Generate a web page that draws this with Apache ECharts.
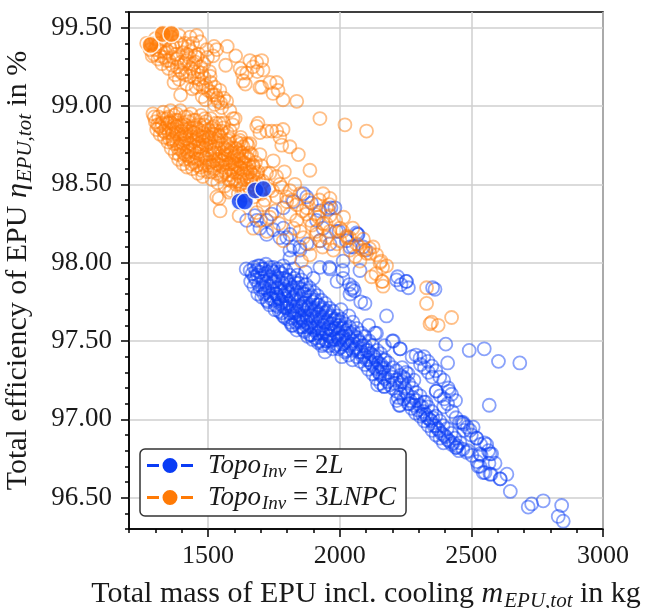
<!DOCTYPE html>
<html><head><meta charset="utf-8">
<script src="https://cdn.jsdelivr.net/npm/echarts@6/dist/echarts.min.js"></script>
<style>html,body{margin:0;padding:0;background:#fff}#c{width:646px;height:608px}</style>
</head><body><div id="c"></div>
<script>
// ---- data ----
const xTicks = [1500, 2000, 2500, 3000];
const yTicks = [96.5, 97.0, 97.5, 98.0, 98.5, 99.0, 99.5];
const legendNames = ['2L', '3LNPC'];

// Topo_Inv = 3LNPC, open markers
const orangeUpper = [[1267,99.40],[1280,99.36],[1288,99.32],[1295,99.33],[1300,99.43],[1305,99.38],[1310,99.30],[1320,99.35],[1325,99.27],[1335,99.31],[1339,99.34],[1340,99.42],[1343,99.29],[1350,99.24],[1356,99.37],[1360,99.44],[1364,99.26],[1368,99.31],[1371,99.15],[1375,99.20],[1380,99.41],[1385,99.30],[1390,99.17],[1390,99.45],[1394,99.23],[1396,99.07],[1400,99.39],[1405,99.34],[1410,99.27],[1415,99.20],[1419,99.14],[1420,99.33],[1425,99.38],[1432,99.44],[1434,99.35],[1435,99.24],[1440,99.11],[1444,99.27],[1448,99.18],[1450,99.32],[1455,99.12],[1457,99.45],[1459,99.31],[1462,99.22],[1466,99.17],[1470,99.41],[1472,99.25],[1478,99.06],[1481,99.12],[1485,99.18],[1490,99.04],[1495,99.36],[1500,99.10],[1505,99.22],[1510,99.15],[1519,99.07],[1519,99.32],[1523,99.38],[1525,99.01],[1529,99.07],[1533,99.36],[1538,99.03],[1545,99.10],[1552,98.99],[1560,99.05],[1567,99.26],[1571,99.03],[1573,99.38],[1583,98.97],[1595,98.92],[1605,99.32],[1622,99.24],[1630,99.21],[1634,99.16],[1642,99.14],[1647,99.21],[1659,99.29],[1671,99.25],[1685,99.28],[1687,99.22],[1697,99.12],[1704,99.29],[1709,99.23],[1704,99.12],[1735,99.15],[1747,99.08],[1761,99.15],[1766,99.10],[1785,99.04],[1837,99.03],[1925,98.92],[2020,98.88],[2102,98.84],[1685,98.87],[1697,98.83],[1723,98.84],[1742,98.84],[1761,98.84],[1785,98.85],[1773,98.80],[1780,98.75],[1811,98.74],[1843,98.69],[1887,98.59],[1690,98.89],
  [1285,99.40],[1298,99.36],[1315,99.40],[1318,99.32],[1330,99.37],[1345,99.35],[1352,99.29],[1366,99.38],[1378,99.33],[1383,99.25],[1398,99.28],[1402,99.21],[1412,99.40],[1418,99.29],[1428,99.31],[1430,99.19],[1442,99.40],[1446,99.22],[1452,99.28],[1464,99.33],[1468,99.14],[1476,99.21],[1484,99.27],[1492,99.13],[1498,99.31],[1508,99.19],[1512,99.09],[1526,99.12],[1535,99.05],[1548,99.02]];
const orangeMain = [[1291,98.95],[1300,98.90],[1305,98.85],[1312,98.93],[1318,98.82],[1325,98.89],[1330,98.96],[1334,98.80],[1340,98.86],[1344,98.92],[1348,98.77],[1352,98.83],[1358,98.97],[1360,98.73],[1362,98.89],[1368,98.79],[1371,98.94],[1375,98.70],[1378,98.85],[1382,98.76],[1385,98.91],[1388,98.66],[1392,98.82],[1395,98.97],[1398,98.72],[1402,98.87],[1405,98.63],[1408,98.78],[1411,98.93],[1414,98.69],[1417,98.84],[1420,98.61],[1423,98.75],[1426,98.90],[1429,98.66],[1432,98.81],[1435,98.95],[1438,98.72],[1441,98.60],[1444,98.86],[1447,98.77],[1450,98.64],[1453,98.91],[1456,98.70],[1459,98.82],[1462,98.57],[1465,98.76],[1468,98.88],[1471,98.66],[1474,98.94],[1477,98.73],[1480,98.55],[1483,98.83],[1486,98.62],[1489,98.78],[1492,98.90],[1495,98.69],[1498,98.58],[1501,98.85],[1504,98.74],[1507,98.64],[1510,98.92],[1513,98.80],[1516,98.53],[1519,98.70],[1522,98.87],[1525,98.60],[1528,98.77],[1531,98.66],[1534,98.84],[1537,98.51],[1540,98.73],[1543,98.89],[1546,98.62],[1549,98.80],[1552,98.56],[1555,98.70],[1558,98.86],[1561,98.66],[1564,98.49],[1567,98.76],[1570,98.59],[1573,98.83],[1576,98.69],[1579,98.53],[1582,98.79],[1585,98.63],[1588,98.46],[1591,98.73],[1594,98.88],[1597,98.58],[1600,98.68],[1603,98.92],[1606,98.50],[1609,98.77],[1612,98.62],[1615,98.44],[1618,98.71],[1621,98.55],[1624,98.80],[1627,98.65],[1630,98.48],[1633,98.74],[1636,98.59],[1640,98.43],[1644,98.68],[1648,98.53],[1652,98.75],[1656,98.62],[1660,98.47],[1665,98.69],[1670,98.56],[1675,98.42],[1680,98.64],[1685,98.51],[1690,98.58],[1696,98.45],[1702,98.62],[1708,98.52],[1715,98.40],[1722,98.57],[1730,98.47],[1355,98.90],[1365,98.82],[1373,98.88],[1380,98.95],[1386,98.73],[1393,98.79],[1400,98.84],[1407,98.70],[1413,98.88],[1419,98.79],[1425,98.68],[1431,98.86],[1437,98.63],[1443,98.80],[1449,98.71],[1455,98.86],[1461,98.66],[1467,98.81],[1473,98.61],[1479,98.77],[1485,98.88],[1491,98.67],[1497,98.81],[1503,98.62],[1509,98.76],[1515,98.86],[1521,98.65],[1527,98.82],[1533,98.57],[1539,98.78],[1545,98.68],[1551,98.84],[1557,98.61],[1563,98.73],[1569,98.64],[1575,98.78],[1581,98.56],[1587,98.70],[1593,98.64],[1599,98.53],[1605,98.73],[1611,98.57],[1617,98.66],[1623,98.50],[1629,98.70],[1635,98.53],[1642,98.63],[1650,98.57],[1658,98.70],[1667,98.50],[1533,98.42],[1546,98.33],[1542,98.41],[1618,98.30],[1580,98.45],
  [1296,98.93],[1308,98.88],[1322,98.86],[1328,98.92],[1338,98.83],[1346,98.89],[1354,98.79],[1363,98.85],[1370,98.76],[1376,98.91],[1383,98.82],[1390,98.69],[1397,98.88],[1404,98.76],[1410,98.66],[1416,98.81],[1422,98.93],[1428,98.72],[1434,98.84],[1440,98.67],[1446,98.91],[1452,98.74],[1458,98.62],[1464,98.85],[1470,98.71],[1476,98.59],[1482,98.80],[1488,98.92],[1494,98.64],[1500,98.79],[1506,98.69],[1512,98.58],[1518,98.82],[1524,98.72],[1530,98.89],[1536,98.63],[1542,98.81],[1548,98.55],[1554,98.75],[1560,98.89],[1566,98.58],[1572,98.72],[1578,98.63],[1584,98.84],[1590,98.52],[1596,98.67],[1602,98.61],[1608,98.70],[1614,98.52],[1620,98.61],[1626,98.76],[1632,98.57],[1638,98.68],[1646,98.47],[1654,98.66],[1662,98.53],[1672,98.62],[1682,98.47],[1692,98.53],[1700,98.44],
  [1315,98.87],[1332,98.84],[1350,98.93],[1366,98.78],[1381,98.87],[1396,98.75],[1409,98.82],[1421,98.71],[1433,98.76],[1445,98.83],[1457,98.79],[1469,98.74],[1481,98.68],[1493,98.75],[1505,98.80],[1517,98.62],[1529,98.70],[1541,98.66],[1553,98.65],[1565,98.69],[1577,98.74],[1589,98.59],[1601,98.63],[1613,98.68],[1625,98.60],[1637,98.64],[1649,98.60],[1661,98.58],[1673,98.52],[1685,98.57]];
const orangeLower = [[1621,98.78],[1647,98.76],[1659,98.76],[1697,98.69],[1748,98.65],[1735,98.57],[1672,98.61],[1773,98.50],[1811,98.46],[1761,98.42],[1799,98.39],[1837,98.37],[1875,98.35],[1906,98.31],[1950,98.35],[1963,98.30],[1887,98.27],[1837,98.27],[1811,98.31],[1735,98.29],[1685,98.32],[1710,98.37],[1672,98.22],[1723,98.20],[1786,98.14],[1862,98.16],[1912,98.18],[1950,98.16],[2001,98.22],[2027,98.17],[2001,98.14],[1976,98.08],[2039,98.08],[2064,98.12],[2102,98.06],[2127,98.10],[2077,98.01],[1887,98.12],[1849,98.20],[1937,98.25],[1912,98.37],[1963,98.41],[1937,98.44],[1798,98.42],[1874,98.31],[1912,98.20],[1963,98.20],[1925,98.14],[1887,98.05],[1855,98.01],[1923,98.40],[1961,98.37],[1948,98.25],[2011,98.20],[2037,98.16],[2075,98.10],[2113,98.09],[2157,98.01],[2163,97.97],[2138,97.93],[2163,97.88],[2027,98.16],[2089,98.08],[2115,98.06],[2153,98.00],[2178,97.98],[2121,97.91],[2160,97.88],[2165,97.85],[2330,97.84],[2330,97.74],[2349,97.62],[2374,97.60],[2425,97.65],[2343,97.61],[1935,98.10],[1760,98.55],[1780,98.48],[1790,98.58],[1820,98.40],[1830,98.50],[1850,98.44],[1860,98.33],[1880,98.40],[1895,98.24],[1920,98.29],[1985,98.27],[2015,98.29],[2050,98.22],[2090,98.15],[1755,98.33],[1770,98.25],[1745,98.46],[1700,98.27],[1825,98.22],[1990,98.12],[2060,98.04],[2140,98.05]];

// Topo_Inv = 2L, open markers
const blueUpper = [[1678,98.30],[1723,98.27],[1748,98.21],[1799,98.16],[1824,98.10],[1849,98.08],[1811,98.08],[1862,98.44],[1875,98.42],[1925,98.33],[1957,98.34],[1982,98.35],[1937,98.22],[1988,98.20],[2026,98.14],[2064,98.19],[2039,98.10],[2089,98.10],[1773,98.16],[1697,98.22],[1647,98.27],[1742,98.31],[1786,98.35],[1824,98.39],[1893,98.38],[1912,98.27],[1786,98.22],[1875,98.12],[1925,98.14],[1963,98.12],[1811,98.03],[1685,98.27],[1723,98.18],[1811,98.18],[1849,98.10],[1967,98.35],[2068,98.18],[2100,98.08],[1997,98.20],[2070,98.18],[2051,98.10],[2013,98.01],[2077,97.95],[1961,97.97],[2011,97.95],[1925,97.97],[1963,97.96],[1748,97.97],[1786,97.98],[1697,97.98],[2220,97.91],[2252,97.88],[2233,97.86],[2353,97.84],[2216,97.89],[2254,97.88],[2261,97.84],[2362,97.83],[2037,97.86],[2056,97.82],[2051,97.84],[2039,97.80],[2096,97.74],[2178,97.66],[1997,97.63],[2013,97.90],[2045,97.83]];
const blueMain = [[1645,97.96],[1660,97.95],[1662,97.88],[1675,97.97],[1676,97.91],[1674,97.85],[1690,97.98],[1688,97.92],[1692,97.86],[1689,97.80],[1705,97.96],[1703,97.90],[1707,97.84],[1704,97.78],[1720,97.99],[1718,97.93],[1722,97.87],[1719,97.81],[1723,97.76],[1735,97.97],[1737,97.91],[1733,97.85],[1736,97.79],[1734,97.73],[1750,97.94],[1752,97.88],[1748,97.82],[1751,97.76],[1754,97.70],[1765,97.96],[1767,97.90],[1763,97.84],[1766,97.78],[1764,97.72],[1780,97.93],[1782,97.87],[1778,97.81],[1781,97.75],[1779,97.68],[1795,97.95],[1797,97.89],[1793,97.83],[1796,97.77],[1794,97.71],[1792,97.65],[1810,97.92],[1812,97.86],[1808,97.80],[1811,97.74],[1809,97.68],[1813,97.62],[1825,97.96],[1827,97.90],[1823,97.84],[1826,97.78],[1824,97.72],[1828,97.66],[1822,97.60],[1840,97.92],[1842,97.87],[1838,97.81],[1841,97.75],[1839,97.69],[1843,97.63],[1837,97.57],[1855,97.89],[1857,97.83],[1853,97.77],[1856,97.71],[1854,97.65],[1858,97.59],[1870,97.94],[1872,97.86],[1868,97.80],[1871,97.74],[1869,97.68],[1873,97.62],[1867,97.56],[1885,97.84],[1887,97.78],[1883,97.72],[1886,97.66],[1884,97.60],[1888,97.54],[1900,97.90],[1902,97.81],[1898,97.75],[1901,97.69],[1899,97.63],[1903,97.57],[1897,97.51],[1915,97.79],[1917,97.73],[1913,97.67],[1916,97.61],[1914,97.55],[1918,97.49],[1930,97.76],[1932,97.70],[1928,97.64],[1931,97.58],[1929,97.52],[1933,97.47],[1944,97.43],[1945,97.74],[1947,97.68],[1943,97.62],[1946,97.56],[1948,97.50],[1960,97.71],[1962,97.65],[1958,97.59],[1961,97.53],[1959,97.47],[1975,97.69],[1977,97.63],[1973,97.57],[1976,97.51],[1974,97.45],[1990,97.88],[1992,97.66],[1988,97.60],[1991,97.54],[1989,97.48],[2005,97.70],[2007,97.64],[2003,97.58],[2006,97.52],[2004,97.46],[2008,97.40],[2020,97.61],[2022,97.55],[2018,97.49],[2021,97.43],[2035,97.66],[2037,97.59],[2033,97.53],[2036,97.47],[2034,97.41],[2050,97.62],[2052,97.56],[2048,97.50],[2051,97.44],[2049,97.38],[2065,97.58],[2067,97.52],[2063,97.46],[2066,97.40],[2080,97.75],[2082,97.55],[2078,97.49],[2081,97.43],[2079,97.37],[2095,97.53],[2097,97.47],[2093,97.41],[2096,97.35],[2110,97.60],[2112,97.50],[2108,97.44],[2111,97.38],[2109,97.32],[2125,97.47],[2127,97.41],[2123,97.35],[2126,97.29],[2140,97.55],[2142,97.44],[2138,97.38],[2141,97.32],[2139,97.26],[2155,97.42],[2157,97.35],[2153,97.29],[2156,97.23],[2170,97.47],[2172,97.38],[2168,97.33],[2171,97.26],[2169,97.21],[2185,97.36],[2187,97.30],[2183,97.24],[2200,97.50],[2202,97.33],[2198,97.27],[2201,97.20],[1800,97.74],[1820,97.69],[1835,97.72],[1850,97.62],[1862,97.70],[1877,97.65],[1892,97.70],[1908,97.64],[1922,97.58],[1937,97.60],[1952,97.54],[1967,97.57],[1982,97.51],[1997,97.55],[2012,97.48],[1760,97.80],[1775,97.74],[1790,97.80],[1745,97.88],[1715,97.84],
  [1668,97.93],[1682,97.89],[1683,97.95],[1697,97.94],[1698,97.83],[1712,97.96],[1713,97.80],[1712,97.88],[1727,97.94],[1728,97.82],[1727,97.75],[1742,97.95],[1743,97.85],[1741,97.77],[1757,97.91],[1758,97.80],[1756,97.73],[1772,97.94],[1773,97.84],[1771,97.77],[1770,97.69],[1787,97.90],[1788,97.79],[1786,97.72],[1786,97.66],[1802,97.89],[1803,97.82],[1801,97.71],[1803,97.64],[1817,97.83],[1818,97.77],[1816,97.65],[1818,97.60],[1832,97.87],[1833,97.80],[1831,97.68],[1833,97.62],[1847,97.84],[1848,97.72],[1846,97.66],[1848,97.59],[1862,97.80],[1863,97.74],[1861,97.63],[1863,97.57],[1877,97.82],[1878,97.71],[1876,97.59],[1878,97.53],[1892,97.79],[1893,97.66],[1891,97.59],[1893,97.54],[1907,97.76],[1908,97.70],[1906,97.58],[1908,97.52],[1922,97.73],[1923,97.67],[1921,97.55],[1923,97.50],[1937,97.71],[1938,97.65],[1936,97.55],[1938,97.48],[1952,97.69],[1953,97.62],[1951,97.50],[1967,97.66],[1968,97.61],[1966,97.50],[1982,97.64],[1983,97.58],[1981,97.47],[1997,97.60],[1998,97.51],[1996,97.45],[2012,97.58],[2013,97.53],[2027,97.57],[2028,97.50],[2026,97.44],[2042,97.55],[2043,97.48],[2057,97.53],[2058,97.45],[2072,97.50],[2073,97.43],[2087,97.47],[2088,97.40],[2102,97.44],[2103,97.38],[2117,97.42],[2118,97.36],[2132,97.40],[2133,97.33],[2147,97.36],[2148,97.30],[2162,97.32],[2163,97.27]];
const blueLower = [[2215,97.31],[2215,97.25],[2215,97.18],[2217,97.12],[2230,97.45],[2230,97.28],[2228,97.22],[2232,97.16],[2229,97.09],[2245,97.26],[2247,97.20],[2243,97.13],[2260,97.29],[2262,97.23],[2258,97.16],[2261,97.10],[2275,97.40],[2275,97.20],[2277,97.14],[2273,97.07],[2290,97.41],[2290,97.17],[2292,97.12],[2288,97.04],[2305,97.39],[2307,97.35],[2305,97.15],[2303,97.09],[2306,97.02],[2320,97.40],[2322,97.33],[2320,97.11],[2318,97.05],[2321,96.99],[2335,97.37],[2337,97.30],[2335,97.08],[2333,97.01],[2336,96.96],[2350,97.34],[2352,97.27],[2350,97.05],[2348,96.99],[2351,96.93],[2365,97.31],[2367,97.18],[2365,97.02],[2363,96.96],[2366,96.90],[2380,97.27],[2382,97.15],[2380,96.99],[2378,96.93],[2381,96.88],[2395,97.25],[2397,97.13],[2395,97.08],[2393,96.96],[2396,96.90],[2394,96.85],[2410,97.36],[2412,97.20],[2410,97.10],[2408,96.94],[2411,96.87],[2425,97.16],[2427,97.05],[2423,96.91],[2426,96.84],[2440,97.12],[2442,97.01],[2438,96.88],[2441,96.82],[2455,96.98],[2457,96.85],[2453,96.80],[2470,96.97],[2472,96.93],[2468,96.81],[2485,96.95],[2487,96.80],[2500,96.90],[2502,96.77],[2520,96.88],[2522,96.73],[2535,96.84],[2537,96.77],[2533,96.70],[2550,96.85],[2552,96.66],[2565,96.80],[2567,96.72],[2575,96.65],[2577,96.78],[2590,96.72],[2610,96.62],[2635,96.65],[2648,96.54],[2716,96.44],[2729,96.46],[2773,96.48],[2843,96.45],[2830,96.38],[2849,96.35],[2403,97.48],[2492,97.44],[2549,97.45],[2603,97.37],[2684,97.36],[2568,97.09],[2204,97.50],[2229,97.45],[2134,97.55],[2166,97.38],[2160,97.33],[2191,97.22],[2242,97.27],[2144,97.22],[2169,97.21],[2226,97.09],[2264,97.10],[2327,97.11],[2315,97.03],[2353,97.01],[2366,97.18],[2416,97.18],[2463,96.98],[2495,96.93],[2444,96.82],[2520,96.88],[2558,96.84],[2507,96.95],[2469,96.98],[2482,96.79],[2533,96.78],[2571,96.78],[2526,96.70],[2545,96.66],[2571,96.65],[2609,96.62],
  [2208,97.23],[2222,97.14],[2237,97.24],[2252,97.17],[2267,97.12],[2282,97.09],[2297,97.06],[2312,97.08],[2327,97.03],[2342,97.00],[2357,96.96],[2372,96.94],[2387,96.91],[2402,96.89],[2417,96.86],[2432,96.85],[2447,96.83],[2237,97.33],[2252,97.30],[2282,97.25]];

// highlighted (filled) points
const orangeBest = [[1282,99.39],[1328,99.46],[1361,99.46]];
const blueBest = [[1620,98.39],[1640,98.39],[1680,98.46],[1710,98.47]];

const orangeData = orangeUpper.concat(orangeMain, orangeLower);
const blueData = blueUpper.concat(blueMain, blueLower);

// ---- chart ----
const FONT = 'Liberation Serif';
const BLUE = '#0a3cf5', ORANGE = '#ff7a05';
const chart = echarts.init(document.getElementById('c'), null, {renderer: 'canvas'});
const subRich = {
  n: {fontFamily: FONT, fontSize: 30, color: '#1a1a1a'},
  i: {fontFamily: FONT, fontSize: 30, fontStyle: 'italic', color: '#1a1a1a'},
  s: {fontFamily: FONT, fontSize: 21, fontStyle: 'italic', color: '#1a1a1a', padding: [14, 0, 0, 1]}
};
const legRich = {
  n: {fontFamily: FONT, fontSize: 27, color: '#1a1a1a'},
  i: {fontFamily: FONT, fontSize: 27, fontStyle: 'italic', color: '#1a1a1a'},
  s: {fontFamily: FONT, fontSize: 19, fontStyle: 'italic', color: '#1a1a1a', padding: [12, 0, 0, 1]}
};
const legIcon = 'path://M0,6.5h12v3h-12z M15.5,8a7.5,7.5 0 1,0 15,0a7.5,7.5 0 1,0 -15,0z M34,6.5h12v3h-12z';
const tickStyle = {color: '#000', width: 1.5};

chart.setOption({
  animation: false,
  backgroundColor: '#fff',
  grid: {left: 129, top: 12, right: 43, bottom: 79, show: true, borderColor: '#000', borderWidth: 1.5,
         backgroundColor: 'transparent', containLabel: false, outerBoundsMode: 'none'},
  legend: {
    orient: 'vertical', left: 140, top: 449, padding: [3, 10, 3, 7], itemGap: 3,
    itemWidth: 46, itemHeight: 16,
    backgroundColor: '#fff', borderColor: '#333', borderWidth: 1.5, borderRadius: 5,
    data: [
      {name: legendNames[0], icon: legIcon, itemStyle: {color: BLUE, borderWidth: 0, opacity: 1}},
      {name: legendNames[1], icon: legIcon, itemStyle: {color: ORANGE, borderWidth: 0, opacity: 1}}
    ],
    formatter: function (name) {
      const m = name.match(/^(\d)(.*)$/);
      return '{i|Topo}{s|Inv}{n| = ' + m[1] + '}{i|' + m[2] + '}';
    },
    textStyle: {padding: [0, 0, 0, 10], rich: legRich}
  },
  xAxis: [
    {type: 'value', min: 1200, max: 3000, position: 'bottom',
     axisLine: {show: true, onZero: false, lineStyle: tickStyle},
     axisTick: {show: true, length: 8, lineStyle: tickStyle, customValues: xTicks},
     axisLabel: {fontFamily: FONT, fontSize: 26, color: '#1a1a1a', margin: 14, customValues: xTicks,
       formatter: v => String(v)},
     splitLine: {show: true, lineStyle: {color: '#cfcfcf', width: 1.5}},
     name: '{n|Total mass of EPU incl. cooling }{i|m}{s|EPU,tot}{n| in kg}',
     nameLocation: 'middle', nameGap: 48, nameTextStyle: {rich: subRich}},
    {type: 'value', min: 1200, max: 3000, interval: 100, position: 'bottom',
     axisLine: {show: false}, axisTick: {show: true, length: 4, lineStyle: tickStyle},
     axisLabel: {show: false}, splitLine: {show: false}}
  ],
  yAxis: [
    {type: 'value', min: 96.3, max: 99.6, position: 'left',
     axisLine: {show: true, onZero: false, lineStyle: tickStyle},
     axisTick: {show: true, length: 8, lineStyle: tickStyle, customValues: yTicks},
     axisLabel: {fontFamily: FONT, fontSize: 27, color: '#1a1a1a', margin: 17, customValues: yTicks,
       formatter: v => v.toFixed(2)},
     splitLine: {show: true, lineStyle: {color: '#cfcfcf', width: 1.5}},
     name: '{n|Total efficiency of EPU }{i|η}{s|EPU,tot}{n| in %}',
     nameLocation: 'middle', nameGap: 93, nameRotate: 90, nameTextStyle: {rich: subRich}},
    {type: 'value', min: 96.3, max: 99.6, interval: 0.1, position: 'left',
     axisLine: {show: false}, axisTick: {show: true, length: 4, lineStyle: tickStyle},
     axisLabel: {show: false}, splitLine: {show: false}}
  ],
  series: [
    {name: legendNames[0], type: 'scatter', data: blueData, symbol: 'circle', symbolSize: 13,
     itemStyle: {color: 'rgba(0,0,0,0)', borderColor: 'rgba(10,60,245,0.6)', borderWidth: 1.8}},
    {name: legendNames[1], type: 'scatter', data: orangeData, symbol: 'circle', symbolSize: 13,
     itemStyle: {color: 'rgba(0,0,0,0)', borderColor: 'rgba(255,122,5,0.6)', borderWidth: 1.8}},
    {name: 'best2L', type: 'scatter', data: blueBest, symbol: 'circle', symbolSize: 17, z: 5,
     itemStyle: {color: BLUE, borderColor: '#fff', borderWidth: 1.5}},
    {name: 'best3LNPC', type: 'scatter', data: orangeBest, symbol: 'circle', symbolSize: 17, z: 5,
     itemStyle: {color: ORANGE, borderColor: '#fff', borderWidth: 1.5}}
  ]
});
</script></body></html>
